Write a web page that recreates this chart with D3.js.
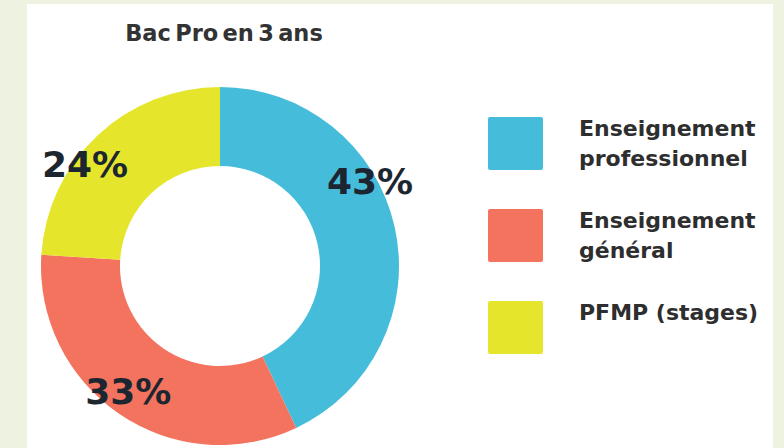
<!DOCTYPE html>
<html>
<head>
<meta charset="utf-8">
<script src="https://cdn.jsdelivr.net/npm/d3@7"></script>
<style>
  body { margin: 0; background: #eef2e0; }
  svg { display: block; }
</style>
</head>
<body>
<svg id="chart" width="784" height="448"></svg>
<script>
// Data
var title = "Bac Pro en 3 ans";
var categories = ["Enseignement professionnel", "Enseignement général", "PFMP (stages)"];
var legendLines = [["Enseignement", "professionnel"], ["Enseignement", "général"], ["PFMP (stages)"]];
var shares = [43, 33, 24];
var colors = ["#46bcdb", "#f4735f", "#e5e62c"];

var width = 784;
var height = 448;
var svg = d3.select("#chart");

// white panel
svg.append("rect")
    .attr("x", 27).attr("y", 4)
    .attr("width", 746).attr("height", 444)
    .attr("fill", "#ffffff");

// title
svg.append("text")
    .attr("x", 224)
    .attr("y", 41)
    .attr("text-anchor", "middle")
    .style("font-family", "DejaVu Sans")
    .style("font-weight", "bold")
    .style("font-size", "22.5px")
    .style("word-spacing", "-3.5px")
    .style("fill", "#333")
    .text(title);

// donut
var cx = 220, cy = 266;
var outerR = 179, innerR = 100;

var pie = d3.pie().sort(null).value(d => d);
var arcs = pie(shares);

var arc = d3.arc().innerRadius(innerR).outerRadius(outerR);
var labelArc = d3.arc().innerRadius(165).outerRadius(165);

var color = d3.scaleOrdinal().domain(categories).range(colors);

var g = svg.append("g").attr("transform", `translate(${cx},${cy})`);

g.selectAll(".slice")
    .data(arcs)
    .enter()
    .append("path")
    .attr("class", "slice")
    .attr("d", arc)
    .attr("fill", (d, i) => color(categories[i]));

// labels sit near the outer rim, nudged off the centroid like the original
var nudge = [[-11, -49], [1, -11], [-22, 18]];

g.selectAll(".pct")
    .data(arcs)
    .enter()
    .append("text")
    .attr("class", "pct")
    .attr("transform", (d, i) => {
        var c = labelArc.centroid(d);
        return `translate(${c[0] + nudge[i][0]},${c[1] + nudge[i][1]})`;
    })
    .attr("text-anchor", "middle")
    .attr("dy", "0.36em")
    .style("font-family", "DejaVu Sans")
    .style("font-weight", "bold")
    .style("font-size", "36px")
    .style("fill", "#1c2630")
    .text(d => d.data + "%");

// legend
var legendY = d3.scaleBand().domain(categories).range([98, 374]);

var legend = svg.selectAll(".legend")
    .data(categories)
    .enter()
    .append("g")
    .attr("class", "legend")
    .attr("transform", d => `translate(488,${legendY(d) + legendY.bandwidth() / 2})`);

legend.append("rect")
    .attr("x", 0)
    .attr("y", -27)
    .attr("width", 55)
    .attr("height", 53)
    .attr("rx", 2)
    .attr("fill", d => color(d));

legend.each(function (d, i) {
    var t = d3.select(this).append("text")
        .attr("x", 91)
        .attr("y", -8)
        .style("font-family", "DejaVu Sans")
        .style("font-weight", "bold")
        .style("font-size", "22px")
        .style("fill", "#2e2e2e");
    legendLines[i].forEach((line, j) => {
        t.append("tspan")
            .attr("x", 91)
            .attr("dy", j === 0 ? 0 : 30)
            .text(line);
    });
});
</script>
</body>
</html>
